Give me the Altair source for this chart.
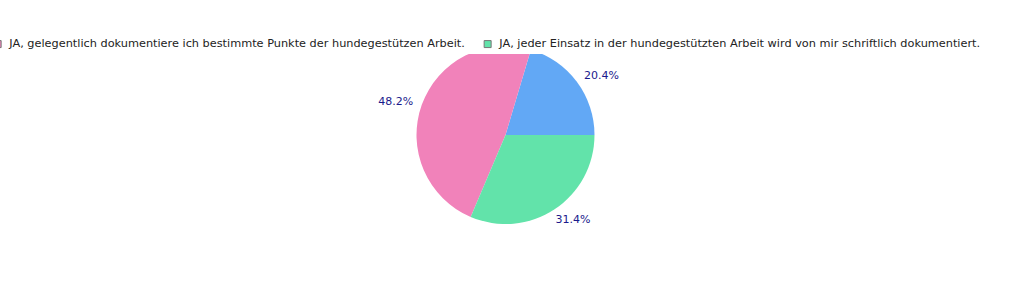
import math
import altair as alt
import pandas as pd

categories = [
    "NEIN, ich dokumentiere meine hundegestützte Arbeit nicht.",
    "JA, gelegentlich dokumentiere ich bestimmte Punkte der hundegestützen Arbeit.",
    "JA, jeder Einsatz in der hundegestützten Arbeit wird von mir schriftlich dokumentiert.",
]
values = [20.4, 48.2, 31.4]
labels = ["20.4%", "48.2%", "31.4%"]
colors = ["#62a8f5", "#f182ba", "#62e3aa"]

df = pd.DataFrame({
    "Kategorie": categories,
    "Wert": values,
    "Label": labels,
    "Reihenfolge": list(range(len(categories))),
})

theta_scale = alt.Scale(range=[math.pi / 2, math.pi / 2 - 2 * math.pi], domain=[0, 100])
color_scale = alt.Scale(domain=categories, range=colors)

base = alt.Chart(df).encode(
    theta=alt.Theta("Wert:Q", stack=True, scale=theta_scale),
    order=alt.Order("Reihenfolge:Q"),
    x=alt.value(505.5),
    y=alt.value(135),
)

pie = base.mark_arc(outerRadius=89, stroke=None).encode(
    color=alt.Color(
        "Kategorie:N",
        scale=color_scale,
        sort=categories,
        legend=alt.Legend(
            title=None,
            orient="none",
            direction="horizontal",
            legendX=-384,
            legendY=34,
            symbolType="square",
            symbolSize=49,
            symbolStrokeColor="#777777",
            symbolStrokeWidth=1,
            labelFont="DejaVu Sans",
            labelFontSize=11.3,
            labelColor="#222222",
            labelLimit=1000,
            labelOffset=6,
            columnPadding=17,
            padding=4,
            fillColor="white",
        ),
    )
)


def label_layer(idx, align, dx=0, dy=0):
    return base.mark_text(
        radius=98, align=align, baseline="middle", dx=dx, dy=dy,
        font="DejaVu Sans", fontSize=11, color="#1a1a8c",
    ).encode(
        text="Label:N",
        opacity=alt.condition(f"datum.Reihenfolge == {idx}", alt.value(1), alt.value(0)),
    )


chart = (
    alt.layer(
        pie,
        label_layer(0, "left"),
        label_layer(1, "right"),
        label_layer(2, "left", dx=-4, dy=3),
    )
    .properties(width=1010, height=300, autosize=alt.AutoSizeParams(type="none"), padding=0)
    .configure_view(stroke=None)
)

chart.save("out.html", embed_options={"renderer": "svg", "actions": False})
